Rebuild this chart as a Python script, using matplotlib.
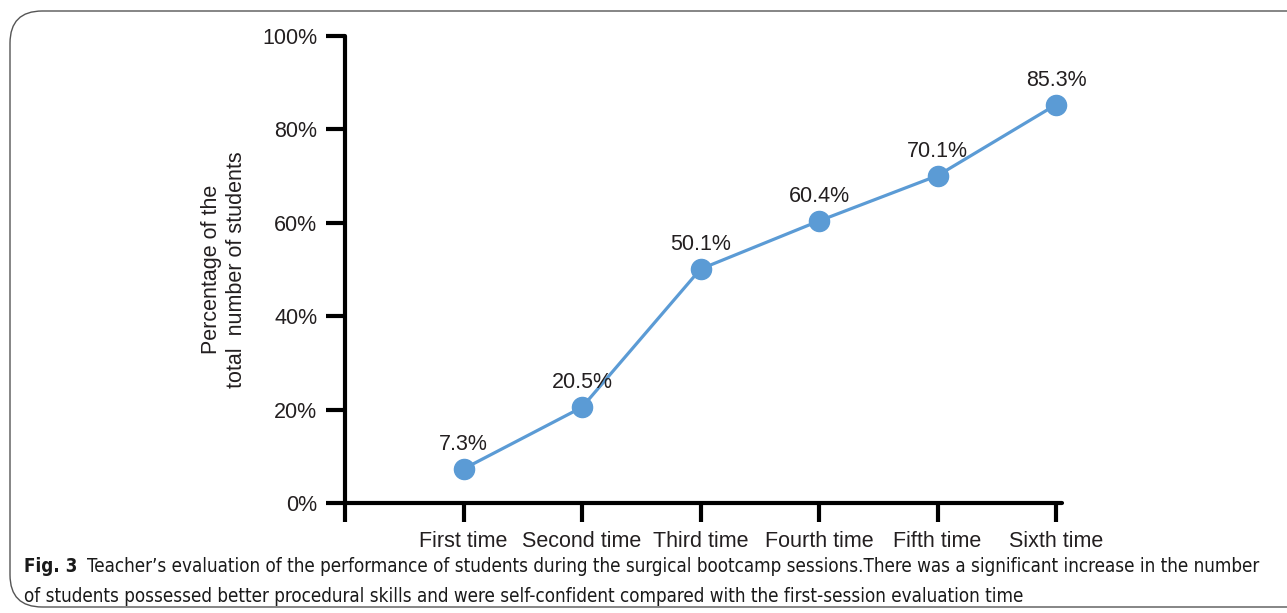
import matplotlib
matplotlib.use("Agg")
import matplotlib.pyplot as plt
from matplotlib.patches import FancyBboxPatch

sessions = ["First time", "Second time", "Third time", "Fourth time", "Fifth time", "Sixth time"]
pct = [7.3, 20.5, 50.1, 60.4, 70.1, 85.3]
yticks = [0, 20, 40, 60, 80, 100]

plt.rcParams['font.family'] = ['Liberation Sans', 'DejaVu Sans']
txt_c = '#231f20'
blue = '#5b9bd5'

fig = plt.figure(figsize=(12.87, 6.13), dpi=100)

# rounded frame around figure
frame = FancyBboxPatch((10/1287, 6/613), 1.2, 1 - 17/613,
                       boxstyle="round,pad=0,rounding_size=0.025",
                       transform=fig.transFigure, fc='none', ec='#555555', lw=1.0,
                       mutation_aspect=1287/613)
fig.patches.append(frame)

ax = fig.add_axes([345/1287, 110/613, 717/1287, 467/613])
x = list(range(1, len(sessions) + 1))
ax.plot(x, pct, '-o', color=blue, lw=2.3, ms=14.5, mfc=blue, mec=blue, clip_on=False)
for xi, v in zip(x, pct):
    ax.annotate(f"{v}%", (xi, v), xytext=(0, 10), textcoords='offset points',
                ha='center', va='bottom', fontsize=15.5, color=txt_c)

ax.set_xlim(0, 6.05)
ax.set_ylim(0, 100)
ax.set_xticks([0] + x)
ax.set_xticklabels([''] + sessions, fontsize=15.5, color=txt_c)
ax.set_yticks(yticks)
ax.set_yticklabels([f"{t}%" for t in yticks], fontsize=15.5, color=txt_c)
for s in ['top', 'right']:
    ax.spines[s].set_visible(False)
for s in ['left', 'bottom']:
    ax.spines[s].set_linewidth(3)
    ax.spines[s].set_capstyle('round')
ax.tick_params(axis='both', width=3, length=14, color='black')
ax.tick_params(axis='y', pad=6)
ax.tick_params(axis='x', pad=6)
ax.set_ylabel("Percentage of the\ntotal  number of students", fontsize=15.5,
              color=txt_c, linespacing=1.3)
ax.yaxis.set_label_coords(-0.136, 0.5)

# caption
cap_kw = dict(fontsize=13.5, family=['DejaVu Sans'], stretch='condensed', color='#1a1a1a')
t1 = fig.text(24/1287, 1 - 567/613, "Fig. 3", fontweight='bold', va='center', **cap_kw)
ax.annotate("Teacher\u2019s evaluation of the performance of students during the surgical bootcamp "
            "sessions.There was a significant increase in the number",
            xy=(1, 0.5), xycoords=t1, xytext=(7, 0), textcoords='offset points',
            va='center', annotation_clip=False, **cap_kw)
fig.text(24/1287, 1 - 597/613,
         "of students possessed better procedural skills and were self-confident compared "
         "with the first-session evaluation time", va='center', **cap_kw)

fig.savefig("out.png", dpi=100)
